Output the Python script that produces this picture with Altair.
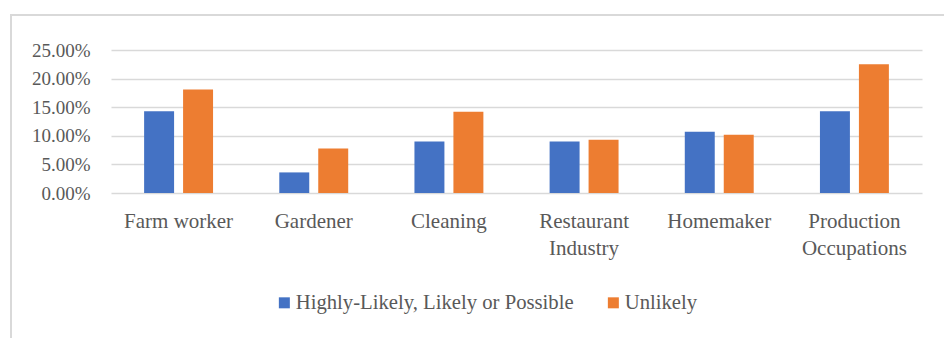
import altair as alt
import pandas as pd

categories = ["Farm worker", "Gardener", "Cleaning", "Restaurant Industry",
              "Homemaker", "Production Occupations"]
series = ["Highly-Likely, Likely or Possible", "Unlikely"]
likely = [0.143, 0.036, 0.090, 0.090, 0.107, 0.143]
unlikely = [0.181, 0.078, 0.142, 0.093, 0.102, 0.225]
colors = ["#4472C4", "#ED7D31"]
y_ticks = [0, 0.05, 0.10, 0.15, 0.20, 0.25]

rows = []
for c, a, b in zip(categories, likely, unlikely):
    rows.append({"cat": c, "series": series[0], "value": a})
    rows.append({"cat": c, "series": series[1], "value": b})
df = pd.DataFrame(rows)

FONT = "Liberation Serif"
TXT = "#595959"
GRID = "#D9D9D9"

label_expr = ("datum.value == 'Restaurant Industry' ? ['Restaurant', 'Industry'] : "
              "datum.value == 'Production Occupations' ? ['Production', 'Occupations'] : datum.label")

bars = alt.Chart(df).mark_bar().encode(
    x=alt.X("cat:N", sort=categories, title=None,
            scale=alt.Scale(paddingInner=0.49, paddingOuter=0.245),
            axis=alt.Axis(labelAngle=0, ticks=False, domain=False, labelPadding=17,
                          labelFont=FONT, labelFontSize=21, labelColor=TXT,
                          labelLineHeight=27, labelLimit=300, labelExpr=label_expr,
                          labelBaseline="top")),
    xOffset=alt.XOffset("series:N", sort=series,
                        scale=alt.Scale(paddingInner=0.231, paddingOuter=0)),
    y=alt.Y("value:Q", title=None,
            scale=alt.Scale(domain=[0, 0.25], nice=False),
            axis=alt.Axis(values=y_ticks, format=".2%", ticks=False, domain=False,
                          labelPadding=21, labelFont=FONT, labelFontSize=19,
                          labelColor=TXT, gridColor=GRID, gridWidth=1.6)),
    color=alt.Color("series:N", sort=series,
                    scale=alt.Scale(domain=series, range=colors),
                    legend=alt.Legend(title=None, orient="none", direction="horizontal",
                                      legendX=163, legendY=242, symbolType="square",
                                      symbolSize=121, symbolStrokeWidth=0,
                                      labelFont=FONT, labelFontSize=20.7, labelColor=TXT,
                                      labelLimit=400, labelOffset=1, columnPadding=29,
                                      padding=0)),
)

frame = pd.DataFrame({"k": [0]})
top_line = alt.Chart(frame).mark_rule(color=GRID, strokeWidth=2).encode(
    x=alt.value(-100), x2=alt.value(833), y=alt.value(-35))
left_line = alt.Chart(frame).mark_rule(color=GRID, strokeWidth=2).encode(
    x=alt.value(-100), y=alt.value(-36), y2=alt.value(288))

chart = alt.layer(bars, top_line, left_line).properties(
    width=811, height=143,
    autosize=alt.AutoSizeParams(type="none"),
    padding={"left": 111, "top": 50, "right": 22, "bottom": 145},
    background="white",
).configure_view(stroke=None)

chart.save("out.html", embed_options={"renderer": "svg", "actions": False})
